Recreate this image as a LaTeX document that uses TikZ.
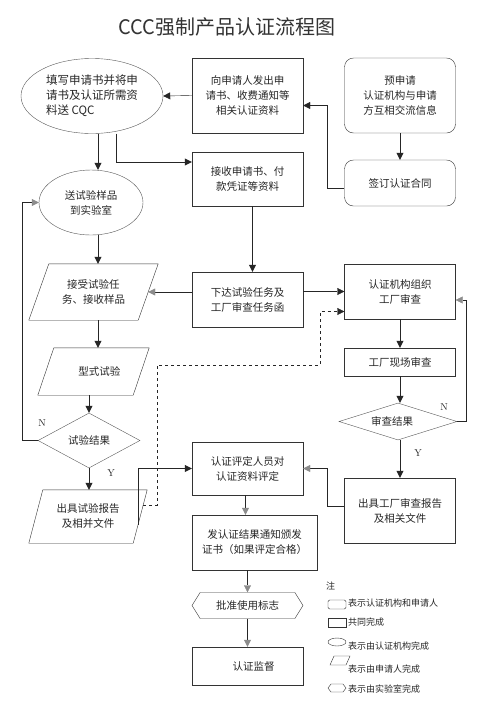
\documentclass[tikz,border=0pt]{standalone}
\usepackage{fontspec}
\newfontfamily\cjk{Noto Sans CJK SC}
\usetikzlibrary{shapes.geometric,shapes.symbols,arrows.meta,calc}
\begin{document}
\begin{tikzpicture}[x=1pt,y=-1pt,
  nf/.style={font=\cjk\fontsize{10.5}{15}\selectfont, text=black!85},
  box/.style={draw=black!80, rectangle, inner sep=0pt, align=center, nf},
  rbox/.style={box, rounded corners=9pt},
  ell/.style={draw=black!65, ellipse, inner sep=0pt, align=center, nf},
  dia/.style={draw=black!65, diamond, inner sep=0pt, align=center, nf},
  para/.style={rectangle, inner sep=0pt, align=center, nf},
  hexa/.style={draw=black!80, signal, signal to=west and east, signal pointer angle=116, inner sep=0pt, nf},
  arr/.style={draw=black!85, -{Triangle[length=7pt,width=7pt]}},
  garr/.style={draw=black!85, -{Triangle[length=7pt,width=7pt,color=black!45]}},
  lbl/.style={font=\fontsize{10}{12}\selectfont, text=black!85},
  leg/.style={anchor=west, inner sep=0pt, font=\cjk\fontsize{9}{11}\selectfont, text=black!85},
]
\fill[white] (0,0) rectangle (500,713);
\useasboundingbox (0,0) rectangle (500,713);

\newcommand\drawpara[2]{%
  \draw[black!80] ($(#1.north west)+(#2,0)$) -- ($(#1.north east)+(#2,0)$) --
    ($(#1.south east)+(-#2,0)$) -- ($(#1.south west)+(-#2,0)$) -- cycle;}

% title
\node[font=\cjk\fontsize{20}{24}\selectfont, text=black!80] (title) at (227,27) {CCC强制产品认证流程图};

% left column
\node[ell, minimum width=142pt, minimum height=75pt, align=left, font=\cjk\fontsize{11.5}{15}\selectfont] (e1) at (92,96) {填写申请书并将申\\请书及认证所需资\\料送 CQC};
\node[ell, minimum width=104pt, minimum height=65pt] (e2) at (91,202.5) {送试验样品\\到实验室};
\node[para, minimum width=109pt, minimum height=56pt] (p1) at (93.5,292) {接受试验任\\务、接收样品};
\drawpara{p1}{10}
\node[para, minimum width=95pt, minimum height=47pt] (p2) at (93.5,371.5) {\hspace*{12pt}型式试验};
\drawpara{p2}{8}
\node[dia, aspect=2, minimum width=102pt, minimum height=55pt] (d1) at (89,440.5) {试验结果};
\node[para, minimum width=104pt, minimum height=53pt] (p3) at (88,516.5) {出具试验报告\\及相并文件};
\drawpara{p3}{7}

% middle column
\node[box, minimum width=111pt, minimum height=75pt] (a) at (247.5,95.5) {向申请人发出申\\请书、收费通知等\\相关认证资料};
\node[box, minimum width=111pt, minimum height=54pt] (b) at (247.5,179) {接收申请书、付\\款凭证等资料};
\node[box, minimum width=111pt, minimum height=55pt] (c) at (247.5,299.5) {下达试验任务及\\工厂审查任务函};
\node[box, minimum width=111pt, minimum height=53pt] (e) at (247.5,468.5) {认证评定人员对\\认证资料评定};
\node[box, minimum width=125pt, minimum height=55pt] (f) at (254.5,542.5) {发认证结果通知颁发\\证书（如果评定合格）};
\node[hexa, minimum width=111pt, minimum height=26pt] (hx) at (247.5,605.5) {批准使用标志};
\node[box, minimum width=111pt, minimum height=38pt] (g) at (247.5,666) {\hspace*{12pt}认证监督};

% right column
\node[rbox, minimum width=111pt, minimum height=75pt] (r1) at (400,95.5) {预申请\\认证机构与申请\\方互相交流信息};
\node[rbox, minimum width=111pt, minimum height=46pt] (r2) at (400,183) {签订认证合同};
\node[box, minimum width=111pt, minimum height=55pt] (d) at (400,291.5) {认证机构组织\\工厂审查};
\node[box, minimum width=111pt, minimum height=28pt] (fac) at (400,362) {工厂现场审查};
\node[dia, aspect=3, minimum width=118pt, minimum height=37pt] (d2) at (398,421.5) {\hspace*{-12pt}审查结果};
\node[box, minimum width=111pt, minimum height=65pt] (h) at (400,510.5) {出具工厂审查报告\\及相关文件};

% helper coordinates
\coordinate (lloop) at (22,0);
\coordinate (rloop) at (466,0);
\coordinate (mA) at (175,0);
\coordinate (dA) at (157,365);
\coordinate (dB) at (320,365);

% connectors
\draw[arr] (a.west) -- (e1.east);
\draw[arr] (r1.south) -- (r2.north);
\draw[arr] ($(r2.west)+(0,5)$) -- ++(-17,0) |- ($(a.east)+(0,10)$);
\draw[arr] ([xshift=6pt]e1.south) -- ([xshift=6pt]e1.south |- e2.north);
\draw[arr] ([xshift=24pt]e1.south) |- ($(b.west)+(0,-17)$);
\draw[arr] ([xshift=5pt]b.south) -- ([xshift=5pt]c.north);
\draw[garr] (c.west |- p1.east) -- (p1.east);
\draw[arr] (c.east |- d.west) -- (d.west);
\draw[arr] (d.south) -- (fac.north);
\draw[arr] (fac.south) -- (fac.south |- d2.north);
\draw[arr] (fac.south |- d2.south) -- (h.north);
\draw[garr] (d2.east) -- (d2.east -| rloop) |- ($(d.east)+(0,8.5)$);
\draw[arr, dashed] ($(p3.east)+(3,-11.5)$) -| (dA) -- (dB) |- ($(d.west)+(0,20)$);
\draw[garr] (d1.west) -- (d1.west -| lloop) |- (e2.west);
\draw[arr] ([xshift=7pt]e2.south) -- ([xshift=7pt]e2.south |- p1.north);
\draw[arr] ([xshift=4.5pt]p1.south) -- ([xshift=4.5pt]p1.south |- p2.north);
\draw[arr] (p2.south -| d1.north) -- (d1.north);
\draw[arr] (d1.south) -- (d1.south |- p3.north);
\draw[arr] ($(p3.east)+(-2,8.5)$) -- ($(p3.east)+(-2,8.5)$ -| mA) |- (e.west);
\draw[garr] ($(h.west)+(0,-4.5)$) -- ++(-17,0) |- (e.east);
\draw[garr] ([xshift=-2pt]e.south) -- ([xshift=-2pt]e.south |- f.north);
\draw[garr] (hx.north |- f.south) -- (hx.north);
\draw[garr] (hx.south) -- (g.north);

% N / Y labels
\node[lbl] (n1) at (42,423) {N};
\node[lbl] (y1) at (111,473) {Y};
\node[lbl] (n2) at (444,407) {N};
\node[lbl] (y2) at (418,453) {Y};

% legend
\node[leg] (lz) at (326,586) {注};
\draw[black!80, rounded corners=1.5pt] (328,600) rectangle (346,609);
\node[leg] (l1) at (348,603) {表示认证机构和申请人};
\draw[black!80] (328,618) rectangle (346,627);
\node[leg] (l2) at (348,622) {共同完成};
\draw[black!80] (337,642) ellipse [x radius=9, y radius=4];
\node[leg] (l3) at (348,646) {表示由认证机构完成};
\draw[black!80] (334,656) -- (350,656) -- (346,665) -- (330,665) -- cycle;
\node[leg] (l4) at (348,669) {表示由申请人完成};
\draw[black!80] (328,688) -- (331,684) -- (343,684) -- (346,688) -- (343,692) -- (331,692) -- cycle;
\node[leg] (l5) at (348,689) {表示由实验室完成};
\end{tikzpicture}
\end{document}
